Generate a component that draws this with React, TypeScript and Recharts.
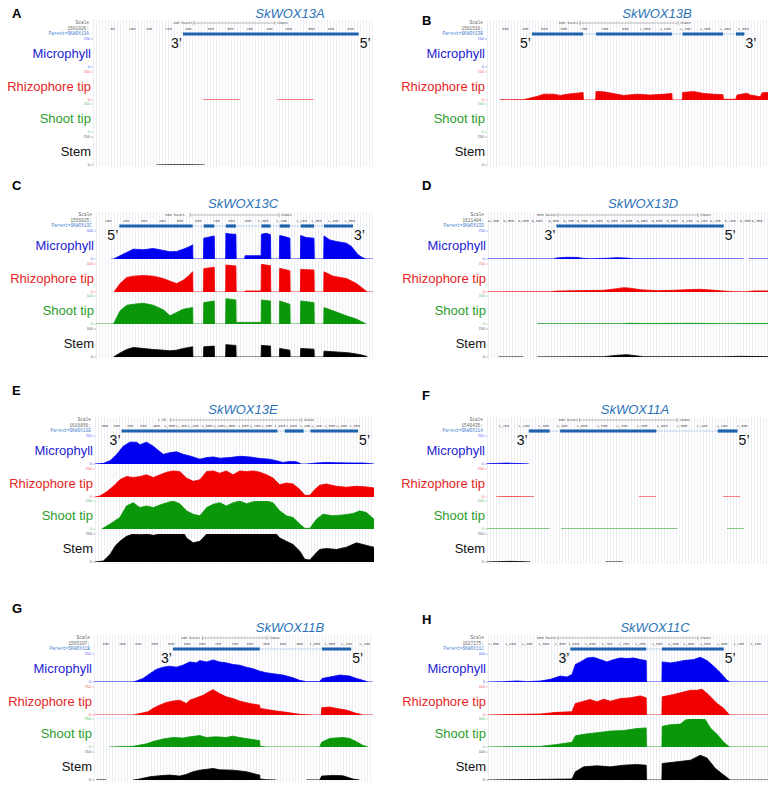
import React from "react";
import {
  AreaChart,
  Area,
  XAxis,
  YAxis,
  ReferenceArea,
  ReferenceLine,
  ReferenceDot,
} from "recharts";

// [position in % of the browser window, read depth]; null = no coverage drawn
type Pt = [number, number | null];

const TRACK_NAMES = ["Microphyll", "Rhizophore tip", "Shoot tip", "Stem"];
const FILLS = ["#0000f0", "#f00000", "#0a980a", "#000000"];
const TEXTS = ["#2323d2", "#e52525", "#2c9c2c", "#111111"];

const none: Pt[] = [];

// ---- A: SkWOX13A
const aRhizo: Pt[] = [[39.3, 1], [52.4, 1], [59, null], [65.8, 1], [78.8, 1]];
const aStem: Pt[] = [[22.6, 0.5], [27.1, 1.5], [35.1, 1.5], [39.9, 0.5]];
const aExons = [[32.1, 94.9]];
const aTicks = [7, 14, 20, 27, 34, 42, 49, 56, 63, 70, 78, 85, 92];
const aTickLabels = ["50", "100", "150", "200", "250", "300", "350", "400", "450", "500", "550", "600", "650"];

// ---- B: SkWOX13B
const bRhizo: Pt[] = [
  [4.7, 2], [13.0, 3], [15.4, 17], [17.8, 32], [20.2, 52], [23.7, 52], [26.1, 41], [28.5, 52], [32.0, 61], [34.2, 67],
  [34.3, 0], [38.7, 0], [38.8, 76], [41.5, 73], [46.3, 52], [48.6, 41], [53.4, 52], [58.1, 44], [62.9, 52], [65.8, 58],
  [65.9, 0], [69.5, 0], [69.6, 67], [73.5, 76], [77.1, 58], [80.7, 52], [84.0, 47], [84.1, 6], [88.5, 6], [89.0, 44],
  [92.5, 61], [93.7, 44], [97.3, 29], [97.9, 64], [100, 67],
];
const bExons = [[16.0, 34.2], [38.8, 65.8], [69.6, 84.0], [88.6, 91.6]];
const bTicks = [6.5, 13.6, 20.4, 27.3, 34.6, 42.1, 49.2, 56.3, 63.4, 70.5, 77.6, 84.7, 91.2];
const bTickLabels = ["300", "400", "500", "600", "700", "800", "900", "1,000", "1,100", "1,200", "1,300", "1,400", "1,500"];

// ---- C: SkWOX13C
const cMicro: Pt[] = [
  [5.5, 0], [6.3, 0], [8.7, 59], [11.1, 118], [13.5, 176], [17.1, 165], [20.7, 188], [24.3, 153], [26.7, 129], [29.1, 135],
  [31.5, 176], [33.9, 224], [34.9, 253], [35.0, 0], [38.8, 0], [38.9, 371], [40.5, 388], [42.7, 412], [42.8, 0], [46.8, 0],
  [46.9, 459], [48.3, 447], [50.5, 441], [50.6, 0], [53.7, 0], [53.8, 59], [59.6, 59], [59.7, 441], [61.5, 459], [63.0, 435],
  [63.1, 0], [66.2, 0], [66.3, 418], [68.1, 400], [70.0, 371], [70.1, 0], [73.8, 0], [73.9, 418], [76.0, 382], [78.7, 371],
  [78.8, 0], [82.2, 0], [82.3, 412], [84.4, 341], [86.8, 312], [90.4, 282], [92.2, 224], [94.6, 76], [96.4, 18], [97.6, 0], [100, 0],
];
const cRhizo: Pt[] = [
  [6.5, 0], [8.7, 151], [11.1, 259], [13.5, 283], [17.1, 295], [20.7, 283], [24.3, 241], [26.7, 193], [29.1, 151], [31.5, 211],
  [33.3, 283], [34.9, 361], [35.0, 0], [38.8, 0], [38.9, 416], [40.5, 428], [42.7, 440], [42.8, 0], [46.8, 0], [46.9, 482],
  [50.5, 464], [50.6, 0], [53.7, 0], [53.8, 18], [59.6, 18], [59.7, 494], [63.0, 470], [63.1, 0], [66.2, 0], [66.3, 422],
  [70.0, 380], [70.1, 0], [73.8, 0], [73.9, 404], [78.7, 392], [78.8, 0], [82.2, 0], [82.3, 361], [85.6, 283], [90.4, 241],
  [94.0, 151], [96.4, 60], [97.6, 12], [98, 0], [100, 0],
];
const cShoot: Pt[] = [
  [0, 0], [6.3, 0], [8.7, 235], [11.1, 335], [13.5, 353], [17.1, 371], [20.7, 335], [24.3, 253], [26.7, 147], [29.1, 206],
  [31.5, 265], [34.9, 294], [35.0, 0], [38.8, 0], [38.9, 382], [42.7, 412], [42.8, 0], [46.8, 0], [46.9, 453], [50.5, 429],
  [50.6, 29], [59.6, 29], [59.7, 429], [63.0, 412], [63.1, 0], [66.2, 0], [66.3, 412], [70.0, 353], [70.1, 0], [73.8, 0],
  [73.9, 412], [78.7, 382], [78.8, 0], [82.2, 0], [82.3, 294], [85.6, 235], [90.4, 147], [94.0, 88], [97.0, 12], [97.6, 0],
];
const cStem: Pt[] = [
  [6.3, 0], [8.7, 73], [11.1, 134], [13.5, 171], [17.1, 152], [20.7, 134], [24.3, 122], [26.7, 110], [29.1, 122], [31.5, 152],
  [34.9, 183], [35.0, 0], [38.8, 0], [38.9, 183], [42.7, 195], [42.8, 0], [46.8, 0], [46.9, 220], [50.5, 207], [50.6, 0],
  [59.6, 0], [59.7, 207], [63.0, 195], [63.1, 0], [66.2, 0], [66.3, 152], [70.0, 122], [70.1, 0], [73.8, 0], [73.9, 152],
  [78.7, 140], [78.8, 0], [82.2, 0], [82.3, 104], [86.8, 91], [91.6, 73], [95.2, 43], [97.6, 12], [98, 0],
];
const cExons = [[8.4, 34.9], [38.9, 42.7], [46.9, 50.5], [59.7, 63.0], [66.3, 70.0], [73.9, 78.7], [82.3, 92.8]];
const cTicks = [4.4, 10.8, 17.3, 23.9, 30.3, 36.9, 43.5, 48.9, 54.9, 60.3, 66.9, 74.2, 79.6, 85.6, 91.6];
const cTickLabels = ["100", "200", "300", "400", "500", "600", "700", "800", "900", "1,000", "1,100", "1,200", "1,300", "1,400", "1,500"];

// ---- D: SkWOX13D
const dMicro: Pt[] = [
  [0, 1], [23.5, 1], [24.6, 10], [28.2, 15], [31.8, 14], [34.2, 5], [36.5, 2], [42.5, 6], [46.1, 12], [49.6, 8], [52.0, 2],
  [91.3, 1], [92.0, null], [93.1, 1], [100, 1],
];
const dRhizo: Pt[] = [
  [0, 1], [22.3, 2], [24.6, 8], [31.8, 12], [41.3, 15], [46.1, 30], [48.5, 39], [50.8, 34], [54.4, 20], [60.4, 12], [66.3, 15],
  [72.3, 22], [75.8, 24], [79.4, 18], [84.2, 8], [87.7, 3], [92.5, 2], [94.9, 10], [100, 10],
];
const dShoot: Pt[] = [[17.5, 2], [48.5, 3], [50.8, 6], [55.6, 4], [72.3, 6], [84.2, 3], [100, 5]];
const dStem: Pt[] = [
  [3.8, 1], [12.7, 1], [15, null], [17.5, 1], [41.3, 3], [46.1, 15], [49.6, 21], [53.2, 10], [55.6, 2], [84.2, 3], [90.1, 6], [100, 3],
];
const dExons = [[24.4, 84.2]];
const dTicks = [2.0, 7.4, 12.7, 17.5, 23.5, 28.8, 33.6, 38.9, 44.3, 49.6, 55.0, 60.4, 65.7, 71.1, 76.4, 81.2, 86.5, 91.9, 96.1];
const dTickLabels = ["9,450", "9,500", "9,550", "9,600", "9,650", "9,700", "9,750", "9,800", "9,850", "9,900", "9,950", "9,000", "9,050", "9,100", "9,150", "9,200", "9,250", "9,300", "9,350"];

// ---- E: SkWOX13E
const eMicro: Pt[] = [
  [0, 0], [3.0, 6], [5.4, 29], [7.8, 86], [10.1, 158], [12.5, 195], [14.9, 195], [16.1, 172], [18.5, 195], [20.9, 158],
  [22.7, 121], [24.5, 86], [26.8, 101], [29.2, 109], [31.6, 86], [34.0, 72], [37.6, 43], [40.0, 57], [42.4, 63], [44.7, 52],
  [48.3, 57], [51.9, 69], [55.5, 63], [59.1, 49], [62.6, 43], [65.0, 29], [67.4, 14], [69.8, 23], [72.2, 20], [74.0, 0],
  [75.8, 0], [79.4, 9], [82.9, 14], [86.5, 11], [92.5, 9], [96.1, 9], [100, 0],
];
const eRhizo: Pt[] = [
  [0, 0], [1.8, 9], [4.2, 47], [6.6, 96], [8.9, 154], [11.3, 183], [13.7, 174], [16.1, 183], [18.5, 198], [20.9, 174],
  [23.3, 198], [25.7, 221], [28.0, 233], [30.4, 227], [32.8, 169], [35.2, 140], [37.6, 154], [40.0, 227], [42.4, 233],
  [44.7, 212], [47.1, 233], [49.5, 198], [51.9, 233], [54.3, 227], [56.7, 233], [59.1, 221], [61.5, 198], [63.8, 169],
  [66.2, 110], [68.6, 125], [71.0, 116], [73.4, 67], [75.2, 15], [77.0, 15], [78.8, 67], [80.5, 105], [82.9, 116],
  [86.5, 96], [90.1, 87], [93.7, 96], [97.3, 90], [100, 81],
];
const eShoot: Pt[] = [
  [2.4, 0], [5.4, 44], [8.9, 103], [11.3, 206], [13.7, 235], [16.1, 191], [18.5, 206], [20.9, 191], [23.3, 215], [25.7, 235],
  [28.0, 250], [30.4, 226], [32.8, 162], [35.2, 132], [37.6, 118], [40.0, 191], [42.4, 221], [44.7, 235], [47.1, 206],
  [49.5, 235], [51.9, 250], [54.3, 226], [56.7, 244], [59.1, 250], [61.5, 250], [63.8, 235], [66.2, 162], [68.6, 118],
  [71.0, 103], [73.4, 44], [75.2, 6], [77.0, 6], [79.4, 88], [81.7, 132], [85.3, 118], [88.9, 126], [92.5, 138],
  [94.9, 162], [97.3, 147], [100, 88],
];
const eStem: Pt[] = [
  [0, 0], [3.0, 9], [5.4, 68], [7.2, 141], [8.9, 185], [11.3, 229], [13.7, 250], [16.1, 244], [18.5, 250], [20.9, 238],
  [23.3, 250], [32.0, 250], [32.8, 215], [35.2, 171], [37.6, 185], [40.0, 250], [65.0, 250], [66.2, 215], [68.6, 185],
  [71.0, 156], [73.4, 97], [75.2, 24], [77.0, 18], [78.8, 68], [80.5, 112], [82.9, 121], [86.5, 112], [90.1, 132],
  [93.7, 171], [96.1, 156], [98.4, 141], [100, 132],
];
const eExons = [[9.5, 65.4], [68.0, 74.8], [77.2, 94.3]];
const eTicks = [3.6, 7.8, 12.5, 17.3, 22.1, 26.8, 31.0, 35.2, 40.0, 44.2, 48.3, 53.1, 57.3, 61.5, 66.2, 70.4, 75.2, 79.4, 84.1, 88.3, 93.1];
const eTickLabels = ["500", "600", "700", "800", "900", "1,000", "1,100", "1,200", "1,300", "1,400", "1,500", "1,600", "1,700", "1,800", "1,900", "2,000", "2,100", "2,200", "2,300", "2,400", "2,500"];

// ---- F: SkWOX11A
const fMicro: Pt[] = [[0, 2], [3.6, 5], [7.1, 8], [10.7, 5], [14.9, 1]];
const fRhizo: Pt[] = [[3.3, 1], [8.0, 2], [16.9, 1], [35, null], [54.2, 1], [60.4, 1], [70, null], [84.3, 1], [90.5, 1]];
const fShoot: Pt[] = [[0, 1], [22.4, 1], [24, null], [26.4, 1], [68.1, 1], [75, null], [85.7, 1], [91.7, 1]];
const fStem: Pt[] = [[0, 1], [3.6, 3], [8.3, 6], [13.1, 3], [15.5, 1], [30, null], [42.3, 1], [48.5, 1]];
const fExons = [[14.9, 22.4], [26.1, 60.5], [82.4, 89.5]];
const fTicks = [6.0, 13.1, 20.2, 26.8, 33.9, 41.1, 48.2, 55.4, 62.5, 69.6, 76.8, 83.9, 91.1];
const fTickLabels = ["1,100", "1,200", "1,300", "1,400", "1,500", "1,600", "1,700", "1,800", "1,900", "2,000", "2,100", "2,200", "2,300"];

// ---- G: SkWOX11B
const gMicro: Pt[] = [
  [0, 1], [14.0, 1], [15.2, 9], [17.6, 32], [20.0, 74], [22.3, 112], [24.7, 132], [27.1, 141], [29.5, 132], [31.9, 150],
  [34.3, 179], [36.7, 171], [37.9, 191], [40.3, 179], [42.7, 197], [45.0, 179], [47.4, 171], [49.8, 156], [52.2, 150],
  [54.6, 132], [57.0, 118], [59.4, 97], [61.8, 82], [64.2, 74], [67.7, 62], [71.3, 38], [73.7, 15], [76.1, 3], [80.9, 3],
  [81.8, 32], [84.5, 44], [88.1, 62], [91.6, 53], [94.0, 32], [96.4, 15], [98.2, 0], [100, 0],
];
const gRhizo: Pt[] = [
  [0, 0], [14.0, 0], [19.4, 29], [21.1, 59], [23.5, 88], [25.9, 112], [28.3, 124], [30.7, 132], [33.1, 103], [34.3, 132],
  [36.7, 153], [39.1, 176], [41.5, 212], [42.7, 226], [45.0, 191], [47.4, 162], [49.8, 147], [52.2, 124], [55.8, 103],
  [59.4, 88], [59.5, 59], [61.8, 50], [65.4, 35], [68.9, 24], [73.7, 6], [78.5, 0], [81.5, 0], [81.6, 65], [84.5, 71],
  [86.9, 59], [90.4, 44], [94.0, 15], [96.4, 0], [100, 0],
];
const gShoot: Pt[] = [
  [5.6, 0], [14.0, 6], [18.8, 28], [21.1, 48], [24.7, 71], [28.3, 85], [31.9, 80], [34.3, 91], [37.9, 102], [40.3, 85],
  [43.8, 91], [47.4, 85], [49.8, 97], [52.2, 85], [55.8, 71], [59.4, 57], [59.5, 6], [61.8, 0], [80.9, 0], [81.6, 43],
  [84.5, 77], [89.2, 85], [91.6, 77], [94.0, 48], [96.4, 14], [98.2, 0],
];
const gStem: Pt[] = [
  [0.8, 1], [4.4, 1], [8, null], [14.0, 0], [16.4, 9], [20.0, 29], [23.5, 38], [27.1, 44], [30.7, 35], [33.1, 50],
  [35.5, 74], [37.9, 88], [42.7, 103], [45.0, 91], [49.8, 88], [54.6, 74], [58.2, 50], [59.4, 44], [59.5, 9], [61.8, 3],
  [65.4, 0], [70, null], [76.1, 1], [80.9, 1], [81.6, 35], [85.7, 41], [89.2, 38], [92.8, 9], [95.2, 0],
];
const gExons = [[28.3, 59.4], [81.7, 92.2]];
const gTicks = [4.2, 10.2, 15.8, 21.8, 27.7, 33.4, 38.8, 44.4, 50.4, 55.8, 61.8, 67.7, 73.7, 79.1, 84.5, 90.5, 97.0];
const gTickLabels = ["350", "400", "450", "500", "550", "600", "650", "700", "750", "800", "850", "900", "950", "1,000", "1,050", "1,100", "1,150"];

// ---- H: SkWOX11C
const hMicro: Pt[] = [
  [0, 0], [5.6, 6], [10.4, 18], [13.9, 6], [18.7, 18], [22.3, 47], [25.8, 106], [28.2, 88], [30.0, 135], [31.2, 312],
  [33.0, 359], [35.4, 429], [37.7, 441], [40.1, 400], [42.5, 359], [44.9, 400], [47.3, 429], [49.6, 418], [52.0, 429],
  [54.4, 400], [56.5, 382], [56.6, 0], [62.1, 0], [62.2, 359], [65.1, 341], [67.5, 359], [69.9, 382], [73.5, 400],
  [75.8, 441], [78.2, 382], [80.6, 282], [83.0, 165], [85.4, 29], [86.5, 0], [100, 0],
];
const hRhizo: Pt[] = [
  [0, 0], [12.7, 12], [18.7, 18], [24.6, 47], [30.0, 59], [31.2, 206], [34.2, 247], [36.5, 276], [38.9, 235], [41.3, 282],
  [43.7, 247], [47.3, 294], [50.8, 306], [54.4, 341], [56.5, 306], [56.6, 0], [62.1, 0], [62.2, 324], [66.3, 365],
  [69.9, 412], [72.3, 441], [74.6, 441], [76.4, 459], [78.2, 388], [81.8, 206], [84.2, 118], [86.0, 12], [86.5, 0], [100, 0],
];
const hShoot: Pt[] = [
  [0, 0], [18.7, 11], [24.6, 45], [30.0, 85], [31.2, 199], [34.2, 227], [38.9, 256], [43.7, 284], [48.5, 295], [53.2, 330],
  [56.5, 341], [56.6, 0], [62.1, 0], [62.2, 369], [65.1, 398], [68.7, 409], [70.5, 480], [72.3, 500], [75.8, 500],
  [77.6, 490], [79.4, 341], [81.8, 227], [84.2, 85], [86.0, 11], [86.5, 0], [100, 0],
];
const hStem: Pt[] = [
  [0, 0], [30.0, 18], [31.2, 147], [34.2, 235], [38.9, 253], [43.7, 235], [48.5, 265], [53.2, 276], [56.5, 265], [56.6, 0],
  [62.1, 0], [62.2, 294], [67.5, 324], [72.3, 353], [75.8, 441], [78.2, 394], [81.2, 206], [84.2, 88], [86.0, 18], [86.5, 0], [100, 0],
];
const hExons = [[29.4, 56.5], [62.1, 84.2]];
const hTicks = [2.0, 8.0, 13.9, 19.9, 25.8, 30.6, 36.5, 42.5, 48.5, 54.4, 60.4, 66.3, 71.7, 77.6, 83.6, 89.5, 95.5];
const hTickLabels = ["1,350", "1,400", "1,450", "1,500", "1,550", "1,600", "1,650", "1,700", "1,750", "1,800", "1,850", "1,900", "1,950", "2,000", "2,050", "2,100", "2,150"];

const TRACK_H = 28;
const PITCH = 32.7;
const AXW = 9;
const PAD = 3;
const GENE_H = 32;

const panels = [
  { id: "A", title: "SkWOX13A", lx: 12, ly: 13, tx: 290, ty: 13, left: 93, width: 280, top: 39, max: 250, scale: "200 bases", scaleAt: [32, 36, 65], coord: "1501926:", parent: "Parent=SKWOX13A", ticks: aTicks, tickLabels: aTickLabels, exons: aExons, ends: ["3\u2019", "5\u2019"], tracks: [none, aRhizo, none, aStem] },
  { id: "B", title: "SkWOX13B", lx: 422, ly: 20, tx: 657, ty: 13, left: 487, width: 281, top: 39, max: 250, scale: "500 bases", scaleAt: [29, 33, 68], coord: "1501516:", parent: "Parent=SKWOX13B", ticks: bTicks, tickLabels: bTickLabels, exons: bExons, ends: ["5\u2019", "3\u2019"], tracks: [none, bRhizo, none, none] },
  { id: "C", title: "SkWOX13C", lx: 12, ly: 185, tx: 243, ty: 203, left: 96, width: 277, top: 231, max: 500, scale: "500 bases", scaleAt: [28.5, 34, 66], coord: "1556025:", parent: "Parent=SKWOX13C", ticks: cTicks, tickLabels: cTickLabels, exons: cExons, ends: ["5\u2019", "3\u2019"], tracks: [cMicro, cRhizo, cShoot, cStem] },
  { id: "D", title: "SkWOX13D", lx: 422, ly: 185, tx: 643, ty: 203, left: 488, width: 280, top: 231, max: 250, scale: "500 bases", scaleAt: [21, 25, 75], coord: "1621404:", parent: "Parent=SKWOX13D", ticks: dTicks, tickLabels: dTickLabels, exons: dExons, ends: ["3\u2019", "5\u2019"], tracks: [dMicro, dRhizo, dShoot, dStem] },
  { id: "E", title: "SkWOX13E", lx: 12, ly: 390, tx: 243, ty: 409, left: 95, width: 279, top: 436, max: 250, scale: "1 kb", scaleAt: [24, 27, 74], coord: "1616856:", parent: "Parent=SKWOX13E", ticks: eTicks, tickLabels: eTickLabels, exons: eExons, ends: ["3\u2019", "5\u2019"], tracks: [eMicro, eRhizo, eShoot, eStem] },
  { id: "F", title: "SkWOX11A", lx: 422, ly: 395, tx: 635, ty: 409, left: 487, width: 280, top: 436, max: 250, scale: "500 bases", scaleAt: [29, 33, 68], coord: "1540435:", parent: "Parent=SKWOX11A", ticks: fTicks, tickLabels: fTickLabels, exons: fExons, ends: ["3\u2019", "5\u2019"], tracks: [fMicro, fRhizo, fShoot, fStem] },
  { id: "G", title: "SkWOX11B", lx: 12, ly: 608, tx: 290, ty: 627, left: 94, width: 279, top: 654, max: 250, scale: "200 bases", scaleAt: [34.5, 38.8, 62], coord: "1565107:", parent: "Parent=SKWOX11B", ticks: gTicks, tickLabels: gTickLabels, exons: gExons, ends: ["3\u2019", "5\u2019"], tracks: [gMicro, gRhizo, gShoot, gStem] },
  { id: "H", title: "SkWOX11C", lx: 422, ly: 619, tx: 655, ty: 627, left: 488, width: 280, top: 654, max: 500, scale: "500 bases", scaleAt: [21, 25, 75], coord: "1627275:", parent: "Parent=SKWOX11C", ticks: hTicks, tickLabels: hTickLabels, exons: hExons, ends: ["3\u2019", "5\u2019"], tracks: [hMicro, hRhizo, hShoot, hStem] },
];

type PanelCfg = (typeof panels)[number];

function Track({ pts, color, max, left, top, width }: { pts: Pt[]; color: string; max: number; left: number; top: number; width: number }) {
  const rows = (pts.length ? pts : ([[0, null], [100, null]] as Pt[])).map(([x, v]) => ({ x, v }));
  return (
    <div style={{ position: "absolute", left: left - AXW, top: top - PAD }}>
      <AreaChart width={width + AXW} height={TRACK_H + 2 * PAD} data={rows} margin={{ top: PAD, right: 0, bottom: PAD, left: 0 }}>
        <XAxis type="number" dataKey="x" domain={[0, 100]} hide allowDataOverflow />
        <YAxis
          domain={[0, max]}
          ticks={[0, max]}
          interval={0}
          width={AXW}
          tick={{ fontSize: 4, fill: color, opacity: 0.7 }}
          tickSize={2}
          tickMargin={1}
          axisLine={false}
          tickLine={{ stroke: color, strokeWidth: 0.5, opacity: 0.6 }}
          allowDataOverflow
        />
        <Area
          type="linear"
          dataKey="v"
          stroke={color}
          strokeWidth={0.8}
          fill={color}
          fillOpacity={1}
          isAnimationActive={false}
          dot={false}
          activeDot={false}
          connectNulls={false}
        />
      </AreaChart>
    </div>
  );
}

// y in the gene chart counts pixels up from its bottom edge
function GeneModel({ p }: { p: PanelCfg }) {
  const exons = p.exons;
  const introns = exons.slice(1).map((e, i) => [exons[i][1], e[0]]);
  const [sText, s1, s2] = p.scaleAt;
  const yScale = GENE_H - 4;
  const yTick = GENE_H - 10;
  const yGene = GENE_H - 15;
  const yEnds = GENE_H - 24;
  const small = { fontSize: 3.6, fill: "#555", fontFamily: "'Liberation Mono', monospace" };
  const base = [{ x: 0, v: 0 }, { x: 100, v: 0 }];
  return (
    <div style={{ position: "absolute", left: p.left, top: p.top - 20 }}>
      <AreaChart width={p.width} height={GENE_H} data={base} margin={{ top: 0, right: 0, bottom: 0, left: 0 }}>
        <XAxis type="number" dataKey="x" domain={[0, 100]} hide allowDataOverflow />
        <YAxis type="number" domain={[0, GENE_H]} hide allowDataOverflow />
        <Area dataKey="v" stroke="none" fill="none" isAnimationActive={false} dot={false} activeDot={false} />
        <ReferenceLine segment={[{ x: s1, y: yScale }, { x: s2, y: yScale }]} stroke="#777" strokeWidth={0.5} ifOverflow="visible" />
        <ReferenceLine segment={[{ x: s1, y: yScale - 2 }, { x: s1, y: yScale + 2 }]} stroke="#777" strokeWidth={0.5} ifOverflow="visible" />
        <ReferenceLine segment={[{ x: s2, y: yScale - 2 }, { x: s2, y: yScale + 2 }]} stroke="#777" strokeWidth={0.5} ifOverflow="visible" />
        <ReferenceDot x={sText} y={yScale} r={0} ifOverflow="visible" label={{ value: p.scale, position: "center", ...small }} />
        <ReferenceDot x={s2} y={yScale} r={0} ifOverflow="visible" label={{ value: "skwox", position: "right", offset: 2, ...small }} />
        {p.ticks.map((t, i) => (
          <ReferenceDot key={"t" + i} x={t} y={yTick} r={0} ifOverflow="visible" label={{ value: p.tickLabels[i], position: "center", ...small }} />
        ))}
        {introns.map(([a, b], i) => (
          <ReferenceLine key={"i" + i} segment={[{ x: a, y: yGene }, { x: b, y: yGene }]} stroke="#6e9fd6" strokeWidth={0.7} strokeDasharray="1.5 1" ifOverflow="visible" />
        ))}
        {exons.map(([a, b], i) => (
          <ReferenceArea key={"e" + i} x1={a} x2={b} y1={yGene - 1.6} y2={yGene + 1.6} fill="#1f63ad" fillOpacity={1} stroke="none" ifOverflow="visible" />
        ))}
        <ReferenceDot x={exons[0][0]} y={yEnds} r={0} ifOverflow="visible" label={{ value: p.ends[0], position: "left", offset: 1, fontSize: 14, fill: "#111" }} />
        <ReferenceDot x={exons[exons.length - 1][1]} y={yEnds} r={0} ifOverflow="visible" label={{ value: p.ends[1], position: "right", offset: 1, fontSize: 14, fill: "#111" }} />
      </AreaChart>
    </div>
  );
}

function Panel({ p }: { p: PanelCfg }) {
  const gridTop = p.top - 19;
  const gridH = 3 * PITCH + TRACK_H + 21;
  const tiny: React.CSSProperties = {
    position: "absolute",
    left: p.left - 4,
    transform: "translate(-100%, -50%)",
    fontSize: 4.5,
    fontFamily: "'Liberation Mono', monospace",
    color: "#666",
    whiteSpace: "nowrap",
    lineHeight: 1,
  };
  return (
    <>
      <div style={{ position: "absolute", left: p.lx, top: p.ly, transform: "translateY(-50%)", fontWeight: "bold", fontSize: 13, lineHeight: 1 }}>
        {p.id}
      </div>
      <div style={{ position: "absolute", left: p.tx, top: p.ty, transform: "translate(-50%, -50%)", fontStyle: "italic", fontSize: 13, color: "#2b72b8", lineHeight: 1, whiteSpace: "nowrap" }}>
        {p.title}
      </div>
      <div
        style={{
          position: "absolute",
          left: p.left,
          top: gridTop,
          width: p.width,
          height: gridH,
          backgroundImage: "linear-gradient(to right, #eceef4 1px, transparent 1px)",
          backgroundSize: "3px 100%",
        }}
      />
      <div style={{ ...tiny, top: p.top - 16 }}>Scale</div>
      <div style={{ ...tiny, top: p.top - 10 }}>{p.coord}</div>
      <div style={{ ...tiny, top: p.top - 5, color: "#4a7fd0" }}>{p.parent}</div>
      {TRACK_NAMES.map((name, i) => {
        const tTop = p.top + i * PITCH;
        return (
          <React.Fragment key={name}>
            <div
              style={{
                position: "absolute",
                left: p.left - 2,
                top: tTop + TRACK_H / 2,
                transform: "translate(-100%, -50%)",
                fontSize: 13,
                color: TEXTS[i],
                whiteSpace: "nowrap",
                lineHeight: 1,
              }}
            >
              {name}
            </div>
            <Track pts={p.tracks[i]} color={FILLS[i]} max={p.max} left={p.left} top={tTop} width={p.width} />
          </React.Fragment>
        );
      })}
      <GeneModel p={p} />
    </>
  );
}

export default function App() {
  return (
    <div
      style={{
        position: "absolute",
        left: 0,
        top: 0,
        width: 777,
        height: 788,
        background: "#fff",
        fontFamily: "'Liberation Sans', Arial, sans-serif",
        overflow: "hidden",
      }}
    >
      {panels.map((p) => (
        <Panel key={p.id} p={p} />
      ))}
    </div>
  );
}
